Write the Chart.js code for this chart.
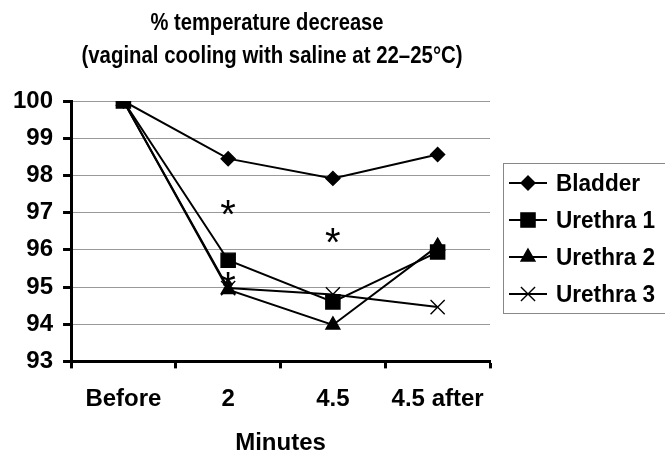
<!DOCTYPE html>
<html>
<head>
<meta charset="utf-8">
<script src="https://cdn.jsdelivr.net/npm/chart.js@4.4.0/dist/chart.umd.min.js"></script>
<style>
  html, body { margin: 0; padding: 0; background: #fff; }
  #wrap { width: 665px; height: 455px; }
</style>
</head>
<body>
<div id="wrap"><canvas id="temp_chart"></canvas></div>
<script>
const categories = ['Before', '2', '4.5', '4.5 after'];
const bladder = [100, 98.45, 97.92, 98.56];
const urethra1 = [100, 95.72, 94.6, 95.94];
const urethra2 = [100, 94.93, 93.98, 96.1];
const urethra3 = [100, 94.97, 94.8, 94.46];
const seriesNames = ['Bladder', 'Urethra 1', 'Urethra 2', 'Urethra 3'];
const titleLines = ['% temperature decrease', '(vaginal cooling with saline at 22\u201325\u00B0C)'];
const xTitle = 'Minutes';
// significance marks
const starCats = ['2', '4.5', '2'];
const starValues = [97.13, 96.38, 95.2];

const FONT = "'Liberation Sans', Arial, sans-serif";

const pointStyles = [
  { pointStyle: 'rectRot', radius: 7 },
  { pointStyle: 'rect', radius: 10 },
  { pointStyle: 'triangle', radius: 8 },
  { pointStyle: 'crossRot', radius: 10 }
];

const make_dataset = (label, data, i) => ({
  label: label,
  data: data,
  borderColor: '#000',
  backgroundColor: '#000',
  borderWidth: 2,
  pointStyle: pointStyles[i].pointStyle,
  pointRadius: pointStyles[i].radius,
  pointBorderWidth: 1.4,
  pointBackgroundColor: '#000',
  pointBorderColor: '#000',
  tension: 0
});

// title font in the original is a narrow face, so squeeze it a bit
const draw_narrow = (ctx, text, cx, cy, squeeze) => {
  ctx.save();
  ctx.translate(cx, cy);
  ctx.scale(squeeze, 1);
  ctx.fillText(text, 0, 0);
  ctx.restore();
};

const titlePlugin = {
  id: 'twoLineTitle',
  afterDraw: (chart) => {
    const ctx = chart.ctx;
    ctx.save();
    ctx.font = `bold 24px ${FONT}`;
    ctx.fillStyle = '#000';
    ctx.textAlign = 'center';
    ctx.textBaseline = 'middle';
    draw_narrow(ctx, titleLines[0], 267, 23, 0.84);
    draw_narrow(ctx, titleLines[1], 272, 56, 0.85);
    ctx.restore();
  }
};

const starPlugin = {
  id: 'stars',
  afterDatasetsDraw: (chart) => {
    const ctx = chart.ctx;
    const xs = chart.scales.x;
    const ys = chart.scales.y;
    ctx.save();
    ctx.font = `40px ${FONT}`;
    ctx.fillStyle = '#000';
    ctx.textAlign = 'center';
    ctx.textBaseline = 'alphabetic';
    const m = ctx.measureText('*');
    const mid = (m.actualBoundingBoxAscent - m.actualBoundingBoxDescent) / 2;
    starCats.forEach((c, i) => {
      const px = xs.getPixelForValue(categories.indexOf(c));
      const py = ys.getPixelForValue(starValues[i]);
      ctx.fillText('*', px, py + mid);
    });
    ctx.restore();
  }
};

const legendPlugin = {
  id: 'boxLegend',
  afterDraw: (chart) => {
    const ctx = chart.ctx;
    const left = 503, top = 163, bottom = 313;
    ctx.save();
    ctx.strokeStyle = '#888';
    ctx.lineWidth = 1;
    ctx.strokeRect(left + 0.5, top + 0.5, 200, bottom - top);
    ctx.font = `bold 24px ${FONT}`;
    ctx.textAlign = 'left';
    ctx.textBaseline = 'middle';
    seriesNames.forEach((name, i) => {
      const y = top + 20 + i * 37;
      ctx.strokeStyle = '#000';
      ctx.fillStyle = '#000';
      ctx.lineWidth = 2;
      ctx.beginPath();
      ctx.moveTo(509, y);
      ctx.lineTo(547, y);
      ctx.stroke();
      ctx.lineWidth = 1.4;
      Chart.helpers.drawPoint(ctx, {
        pointStyle: pointStyles[i].pointStyle,
        radius: pointStyles[i].radius,
        rotation: 0,
        borderWidth: 1.4
      }, 528, y);
      ctx.save();
      ctx.translate(556, y + 1);
      ctx.scale(0.94, 1);
      ctx.fillText(name, 0, 0);
      ctx.restore();
    });
    ctx.restore();
  }
};

const canvas = document.getElementById('temp_chart');
const config = {
  type: 'line',
  data: {
    labels: categories,
    datasets: [
      make_dataset(seriesNames[0], bladder, 0),
      make_dataset(seriesNames[1], urethra1, 1),
      make_dataset(seriesNames[2], urethra2, 2),
      make_dataset(seriesNames[3], urethra3, 3)
    ]
  },
  options: {
    responsive: true,
    maintainAspectRatio: false,
    animation: false,
    layout: {
      padding: { left: 3, right: 175, top: 101, bottom: 0 }
    },
    scales: {
      x: {
        offset: true,
        border: { color: '#000', width: 3 },
        grid: {
          offset: true,
          drawOnChartArea: false,
          drawTicks: true,
          tickLength: 7,
          tickColor: '#000',
          tickWidth: 3
        },
        ticks: {
          color: '#000',
          padding: 17,
          font: { family: FONT, size: 24, weight: 'bold' }
        },
        title: {
          display: true,
          text: xTitle,
          color: '#000',
          padding: { top: -2, bottom: -3 },
          font: { family: FONT, size: 24, weight: 'bold' }
        }
      },
      y: {
        min: 93,
        max: 100,
        border: { color: '#000', width: 3 },
        grid: {
          color: '#999',
          lineWidth: 1,
          tickLength: 8,
          tickColor: '#000',
          tickWidth: 3
        },
        ticks: {
          stepSize: 1,
          color: '#000',
          padding: 10,
          font: { family: FONT, size: 24, weight: 'bold' }
        }
      }
    },
    plugins: {
      legend: { display: false },
      title: { display: false },
      tooltip: { enabled: false }
    }
  },
  plugins: [titlePlugin, starPlugin, legendPlugin]
};

const myChart_temp = new Chart(canvas, config);
</script>
</body>
</html>
